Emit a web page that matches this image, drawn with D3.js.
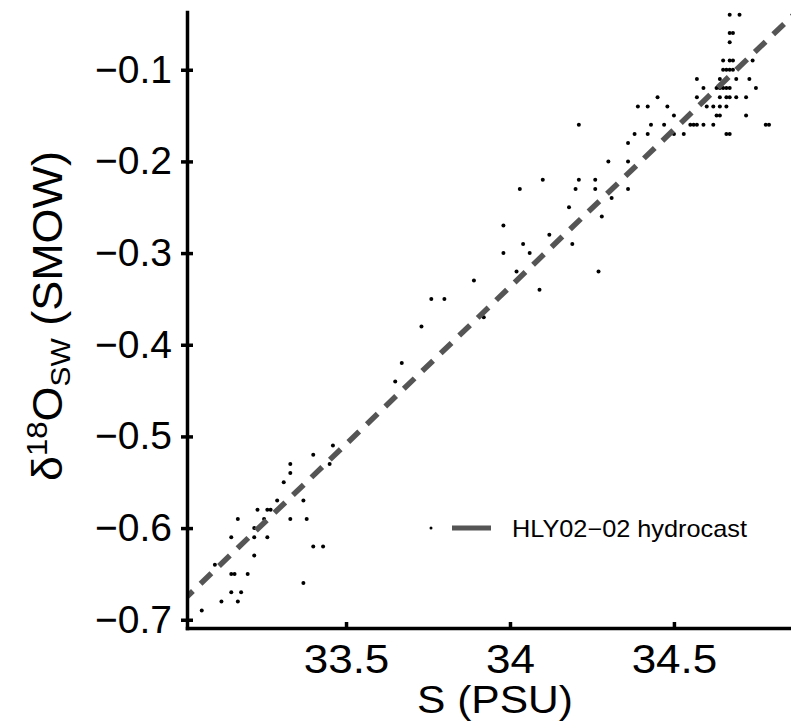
<!DOCTYPE html>
<html>
<head>
<meta charset="utf-8">
<script src="https://cdn.jsdelivr.net/npm/d3@7"></script>
<style>
body { margin: 0; background: #fff; }
text { font-family: "Liberation Sans", Arial, Helvetica, sans-serif; fill: #000; }
</style>
</head>
<body>
<svg id="chart" width="791" height="728"></svg>
<script>
// bottle samples: salinity (PSU) and d18O of seawater (SMOW)
var salinity = [
  33.06, 33.12, 33.17, 33.15, 33.18, 33.37, 33.15, 33.16, 33.20, 33.10,
  33.22, 33.40, 33.43, 33.15, 33.22, 33.26, 33.22, 33.17, 33.25, 33.33,
  33.38, 33.23, 33.26, 33.27, 33.29, 33.29, 33.37, 33.31, 33.33, 33.33,
  33.45, 33.40, 33.46, 33.65, 33.67, 33.73, 33.76, 33.80, 33.89, 33.92,
  34.09, 34.02, 34.27, 33.98, 34.06, 34.04, 34.19, 34.12, 33.98, 34.28,
  34.18, 34.31, 34.03, 34.20, 34.26, 34.36, 34.10, 34.21, 34.26, 34.30,
  34.36, 34.36, 34.38, 34.42, 34.21, 34.43, 34.39, 34.42, 34.45, 34.67,
  34.70, 34.67, 34.68, 34.67, 34.65, 34.67, 34.68, 34.74, 34.65, 34.66,
  34.67, 34.68, 34.57, 34.64, 34.66, 34.69, 34.73, 34.59, 34.63, 34.64,
  34.65, 34.66, 34.67, 34.75, 34.57, 34.64, 34.66, 34.67, 34.69, 34.72,
  34.48, 34.60, 34.62, 34.64, 34.66, 34.50, 34.63, 34.64, 34.72, 34.47,
  34.55, 34.56, 34.57, 34.59, 34.62, 34.78, 34.79, 34.50, 34.53, 34.66,
  34.67
];
var d18o = [
  -0.69, -0.68, -0.68, -0.67, -0.67, -0.66, -0.65, -0.65, -0.65, -0.64,
  -0.63, -0.62, -0.62, -0.61, -0.61, -0.61, -0.60, -0.59, -0.59, -0.59,
  -0.59, -0.58, -0.58, -0.58, -0.58, -0.57, -0.57, -0.55, -0.54, -0.53,
  -0.53, -0.52, -0.51, -0.44, -0.42, -0.38, -0.35, -0.35, -0.33, -0.37,
  -0.34, -0.32, -0.32, -0.30, -0.30, -0.29, -0.29, -0.28, -0.27, -0.26,
  -0.25, -0.24, -0.23, -0.23, -0.23, -0.23, -0.22, -0.22, -0.22, -0.20,
  -0.20, -0.18, -0.17, -0.17, -0.16, -0.16, -0.14, -0.14, -0.13, -0.04,
  -0.04, -0.06, -0.06, -0.07, -0.09, -0.09, -0.09, -0.09, -0.10, -0.10,
  -0.10, -0.10, -0.11, -0.11, -0.11, -0.11, -0.11, -0.12, -0.12, -0.12,
  -0.12, -0.12, -0.12, -0.12, -0.13, -0.13, -0.13, -0.13, -0.13, -0.13,
  -0.14, -0.14, -0.14, -0.14, -0.14, -0.15, -0.15, -0.15, -0.15, -0.16,
  -0.16, -0.16, -0.16, -0.16, -0.16, -0.16, -0.16, -0.17, -0.17, -0.17,
  -0.17
];

// hydrocast mixing line
var fitS = [33.0, 34.9];
var fitD = [-0.680, -0.028];

var xTicks = [33.5, 34, 34.5];
var yTicks = [-0.7, -0.6, -0.5, -0.4, -0.3, -0.2, -0.1];
var legendLabel = "HLY02\u221202 hydrocast";

var svg = d3.select('#chart');

var x = d3.scaleLinear().domain([33.015, 34.857]).range([187, 791]);
var y = d3.scaleLinear().domain([-0.709, -0.037]).range([628, 12]);

svg.append('clipPath').attr('id', 'plotArea')
  .append('rect')
  .attr('x', x.range()[0]).attr('y', y.range()[1])
  .attr('width', x.range()[1] - x.range()[0])
  .attr('height', y.range()[0] - y.range()[1]);

// samples
svg.append('g')
  .selectAll('circle')
  .data(salinity)
  .enter()
  .append('circle')
  .attr('cx', function(d) { return x(d); })
  .attr('cy', function(d, i) { return y(d18o[i]); })
  .attr('r', 2)
  .attr('fill', '#000');

// dashed line
var line = d3.line()
  .x(function(d, i) { return x(fitS[i]); })
  .y(function(d, i) { return y(fitD[i]); });

svg.append('path')
  .datum(fitS)
  .attr('clip-path', 'url(#plotArea)')
  .attr('d', line)
  .attr('fill', 'none')
  .attr('stroke', '#555')
  .attr('stroke-width', 5.5)
  .attr('stroke-dasharray', '15,10.6');

// axes
var xAxis = svg.append('g')
  .attr('transform', 'translate(0,' + y.range()[0] + ')')
  .call(d3.axisBottom(x).tickValues(xTicks).tickFormat(d3.format('~g'))
    .tickSizeInner(-6).tickSizeOuter(0).tickPadding(17));

var yAxis = svg.append('g')
  .attr('transform', 'translate(' + x.range()[0] + ',0)')
  .call(d3.axisLeft(y).tickValues(yTicks).tickFormat(d3.format('.1f'))
    .tickSizeInner(6).tickSizeOuter(0).tickPadding(9));

[xAxis, yAxis].forEach(function(ax) {
  ax.attr('font-family', null);
  ax.select('.domain').attr('stroke', '#000').attr('stroke-width', 3.5).attr('stroke-linecap', 'square');
  ax.selectAll('.tick line').attr('stroke', '#000').attr('stroke-width', 3.5);
  ax.selectAll('.tick text').attr('fill', '#000');
});
xAxis.attr('font-size', 40);
xAxis.selectAll('.tick text').attr('transform', 'scale(1.1,1)');
yAxis.attr('font-size', 39);
yAxis.selectAll('.tick line').attr('x1', -6).attr('x2', 6);

// axis titles
svg.append('text')
  .attr('transform', 'translate(495,713) scale(1.12,1)')
  .attr('text-anchor', 'middle')
  .attr('font-size', 38)
  .text('S (PSU)');

var yTitle = svg.append('text')
  .attr('transform', 'translate(62,316) rotate(-90) scale(1.07,1)')
  .attr('text-anchor', 'middle')
  .attr('font-size', 42);
yTitle.append('tspan').text('\u03b4');
yTitle.append('tspan').attr('font-size', 29).attr('dy', -15).text('18');
yTitle.append('tspan').attr('dy', 15).text('O');
yTitle.append('tspan').attr('font-size', 28).attr('dy', 8).text('SW');
yTitle.append('tspan').attr('dy', -8).text(' (SMOW)');

// legend
var legend = svg.append('g').attr('transform', 'translate(431,528)');
legend.append('circle').attr('cx', 0).attr('cy', 0).attr('r', 1.5).attr('fill', '#000');
legend.append('line')
  .attr('x1', 21).attr('x2', 60).attr('y1', 0).attr('y2', 0)
  .attr('stroke', '#555').attr('stroke-width', 5);
legend.append('text')
  .attr('transform', 'translate(81,9) scale(1.1,1)')
  .attr('font-size', 23)
  .text(legendLabel);
</script>
</body>
</html>
